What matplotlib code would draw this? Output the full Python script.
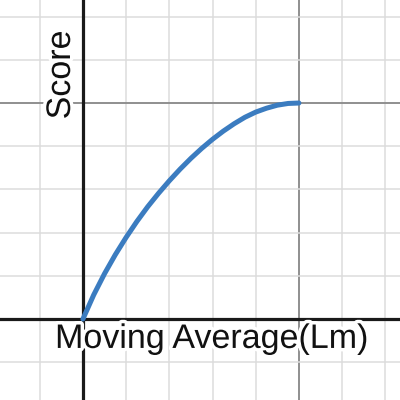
import matplotlib
matplotlib.use("Agg")
import matplotlib.pyplot as plt
import matplotlib.patheffects as pe
from matplotlib.ticker import MultipleLocator

# curve (grid units: 1 minor square = 1)
lm = [0, 0.25, 0.5, 0.75, 1, 1.25, 1.5, 1.75, 2, 2.25, 2.5,
      2.75, 3, 3.25, 3.5, 3.75, 4, 4.25, 4.5, 4.75, 5]
score = [0, 0.56, 1.05, 1.49, 1.89, 2.26, 2.60, 2.91, 3.20, 3.47, 3.72,
         3.95, 4.16, 4.35, 4.52, 4.67, 4.79, 4.88, 4.95, 4.99, 5.0]

x_label = "Moving Average(Lm)"
y_label = "Score"

plt.rcParams["font.family"] = ["Liberation Sans", "DejaVu Sans"]

fig = plt.figure(figsize=(4, 4), dpi=100)
ax = fig.add_axes([0, 0, 1, 1])
ax.set_xlim(-1.92, 7.34)
ax.set_ylim(-1.875, 7.385)

ax.xaxis.set_major_locator(MultipleLocator(5))
ax.xaxis.set_minor_locator(MultipleLocator(1))
ax.yaxis.set_major_locator(MultipleLocator(5))
ax.yaxis.set_minor_locator(MultipleLocator(1))
ax.grid(which="minor", color="#dcdcdc", lw=1.1)
ax.grid(which="major", color="#8f8f8f", lw=1.4)
ax.tick_params(which="both", length=0, labelbottom=False, labelleft=False)
for s in ax.spines.values():
    s.set_visible(False)

ax.axhline(0, color="#1a1a1a", lw=2.3, zorder=2)
ax.axvline(0, color="#1a1a1a", lw=2.3, zorder=2)

ax.plot(lm, score, color="#3b7cc0", lw=3.6, solid_capstyle="round",
        solid_joinstyle="round", zorder=4)

halo = [pe.withStroke(linewidth=5, foreground="white")]
ax.text(2.98, -0.67, x_label, fontsize=24.5, ha="center", va="baseline",
        color="#111111", path_effects=halo, zorder=3)
ax.text(-0.3, 5.65, y_label, fontsize=24.5, ha="center", va="baseline",
        rotation=90, rotation_mode="anchor", color="#111111",
        path_effects=halo, zorder=3)

fig.savefig("out.png", dpi=100)
